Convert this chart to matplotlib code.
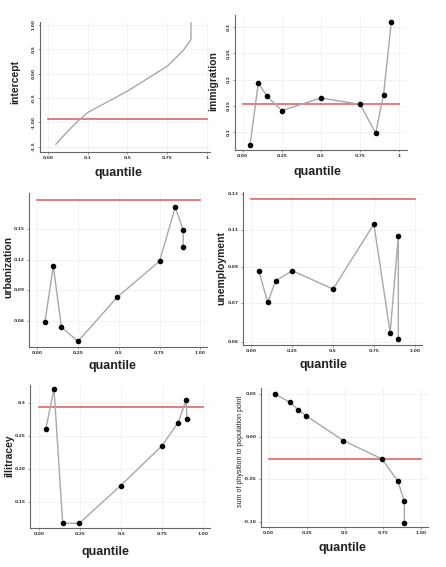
import matplotlib.pyplot as plt

# quantile regression coefficients
int_q = [0.05, 0.10, 0.15, 0.20, 0.25, 0.50, 0.75, 0.85, 0.90, 0.90]
int_v = [-1.45, -1.27, -1.10, -0.94, -0.80, -0.36, 0.15, 0.47, 0.70, 1.04]
int_ref = -0.93

imm_q = [0.047, 0.10, 0.157, 0.25, 0.50, 0.75, 0.85, 0.90, 0.95]
imm_v = [0.076, 0.193, 0.168, 0.141, 0.165, 0.153, 0.098, 0.171, 0.310]
imm_ref = 0.153

urb_q = [0.047, 0.098, 0.148, 0.25, 0.49, 0.75, 0.846, 0.895, 0.895]
urb_v = [0.0588, 0.1136, 0.0536, 0.0398, 0.0831, 0.1185, 0.1713, 0.1493, 0.132]
urb_ref = 0.1785

une_q = [0.045, 0.10, 0.148, 0.25, 0.50, 0.75, 0.85, 0.90, 0.90]
une_v = [0.0877, 0.0705, 0.0824, 0.0879, 0.0778, 0.1135, 0.0539, 0.1069, 0.0502]
une_ref = 0.1271

ill_q = [0.041, 0.091, 0.144, 0.245, 0.497, 0.748, 0.846, 0.895, 0.90]
ill_v = [0.260, 0.321, 0.118, 0.118, 0.175, 0.235, 0.270, 0.304, 0.275]
ill_ref = 0.294

phy_q = [0.043, 0.141, 0.193, 0.246, 0.489, 0.743, 0.846, 0.889, 0.889]
phy_v = [0.050, 0.0406, 0.0319, 0.0248, -0.0043, -0.026, -0.052, -0.0756, -0.1008]
phy_ref = -0.026

xticks = [0, 0.25, 0.5, 0.75, 1]
xlab_a = ['0.00', '0.1', '0.5', '0.75', '1']
xlab_b = ['0.00', '0.25', '0.5', '0.75', '1']
xlab_c = ['0.00', '0.25', '0.5', '0.75', '1.00']

int_yt = [-1.5, -1.0, -0.5, 0.0, 0.5, 1.0]
int_yl = ['-1.5', '-1.00', '-0.5', '0.00', '0.5', '1.00']
imm_yt = [0.1, 0.15, 0.2, 0.25, 0.3]
imm_yl = ['0.1', '0.15', '0.2', '0.25', '0.3']
urb_yt = [0.06, 0.09, 0.12, 0.15]
urb_yl = ['0.06', '0.09', '0.12', '0.15']
une_yt = [0.049, 0.07, 0.09, 0.11, 0.13]
une_yl = ['0.06', '0.07', '0.09', '0.11', '0.13']
ill_yt = [0.15, 0.20, 0.25, 0.3]
ill_yl = ['0.15', '0.20', '0.25', '0.3']
phy_yt = [-0.10, -0.05, 0.0, 0.05]
phy_yl = ['-0.10', '-0.05', '0.00', '0.05']

W, H = 446, 567
narrow = ['Liberation Sans Narrow', 'Liberation Sans', 'DejaVu Sans']

fig = plt.figure(figsize=(W / 100, H / 100), dpi=100)


def panel(box, q, v, ref, xlim, ylim, xlab, yt, yl, ylabel, ylab_xy, xlab_xy,
          marker=True, rot=0, ybold=True, yfs=7.5):
    l, t, r, b = box
    ax = fig.add_axes([l / W, 1 - b / H, (r - l) / W, (b - t) / H])
    ax.grid(True, color='#f0f0f0', linewidth=0.6)
    ax.set_axisbelow(True)
    ax.plot(q, v, color='#a8a8a8', linewidth=1.0, zorder=2)
    if marker:
        ax.plot(q, v, 'o', color='black', markersize=3, zorder=3)
    ax.plot([0, 1], [ref, ref], color='#e06666', linewidth=1.2, zorder=1)
    ax.set_xlim(*xlim)
    ax.set_ylim(*ylim)
    ax.set_xticks(xticks)
    ax.set_xticklabels(xlab, fontsize=3.2, fontweight='bold')
    ax.set_yticks(yt)
    ax.set_yticklabels(yl, fontsize=3.2, fontweight='bold',
                       rotation=rot, va='center')
    ax.tick_params(length=1.5, width=0.5, pad=1.5, colors='#777777',
                   labelcolor='#333333')
    for s in ['top', 'right']:
        ax.spines[s].set_visible(False)
    for s in ['left', 'bottom']:
        ax.spines[s].set_color('#666666')
        ax.spines[s].set_linewidth(0.8)
    fig.text(xlab_xy[0] / W, 1 - xlab_xy[1] / H, 'quantile', family=narrow,
             fontsize=9, fontweight='bold', ha='center', va='center',
             color='#222222')
    fig.text(ylab_xy[0] / W, 1 - ylab_xy[1] / H, ylabel,
             family=narrow if ybold else ['Liberation Sans', 'DejaVu Sans'],
             fontsize=yfs, fontweight='bold' if ybold else 'normal',
             rotation=90, ha='center', va='center', color='#222222')
    return ax


panel((40, 22, 210, 152), int_q, int_v, int_ref, (-0.05, 1.02), (-1.61, 1.06),
      xlab_a, int_yt, int_yl, 'intercept', (15, 82), (118, 173),
      marker=False, rot=90)
panel((235, 15, 407, 150), imm_q, imm_v, imm_ref, (-0.049, 1.05), (0.066, 0.323),
      xlab_b, imm_yt, imm_yl, 'immigration', (213, 81), (317, 172), rot=90)
panel((29, 193, 207, 347), urb_q, urb_v, urb_ref, (-0.051, 1.041), (0.0342, 0.1854),
      xlab_c, urb_yt, urb_yl, 'urbanization', (8, 267), (112, 366))
panel((243, 192, 422, 345), une_q, une_v, une_ref, (-0.052, 1.045), (0.0471, 0.1311),
      xlab_c, une_yt, une_yl, 'unemployment', (221, 268), (323, 365))
panel((30, 385, 210, 528), ill_q, ill_v, ill_ref, (-0.055, 1.04), (0.1109, 0.3266),
      xlab_c, ill_yt, ill_yl, 'illitracey', (9, 456), (105, 552))
panel((261, 388, 428, 527), phy_q, phy_v, phy_ref, (-0.05, 1.044), (-0.1059, 0.0575),
      xlab_c, phy_yt, phy_yl, 'sum of physition to population point', (240, 451),
      (342, 548), ybold=False, yfs=5)

fig.savefig('out.png', dpi=100, facecolor='white')
